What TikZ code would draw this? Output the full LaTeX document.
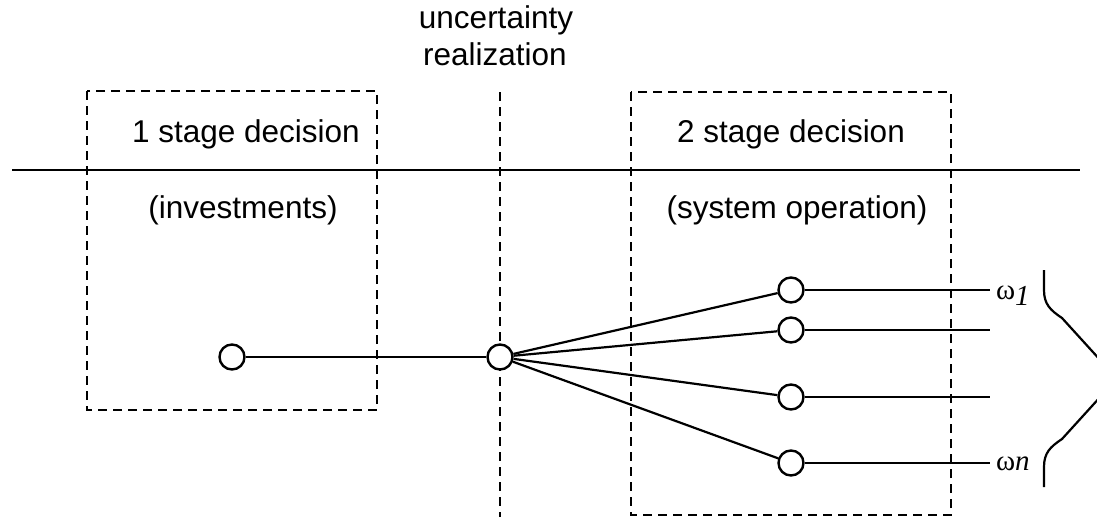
\documentclass[tikz,border=0pt]{standalone}
\usepackage{fontspec}
\setmainfont{Liberation Sans}
\newfontfamily\omegafont{Liberation Serif}
\begin{document}
\begin{tikzpicture}[x=1pt, y=-1pt, line width=2.2pt,
   dashbox/.style={dash pattern=on 9pt off 6pt, line width=2.2pt},
   vertex/.style={circle, draw, fill=white, minimum size=25pt, inner sep=0pt, line width=2.4pt},
   lbl/.style={anchor=base, inner sep=0pt, font=\fontsize{31.5}{37}\selectfont},
   omega/.style={anchor=base west, inner sep=0pt, font=\omegafont\fontsize{29}{32}\selectfont}]
   \useasboundingbox (0,0) rectangle (1097,517);
   % stage line and boxes
   \draw (12,170)--(1080,170);
   \draw[dashbox] (87,91) rectangle (377,410);
   \draw[dashbox] (631,92) rectangle (951,515);
   \draw[dashbox] (500,92)--(500,517);
   % texts
   \node[lbl] (unc) at (496,28) {uncertainty};
   \node[lbl] (real) at (495,65) {realization};
   \node[lbl] (st1) at (246,142) {1 stage decision};
   \node[lbl] (inv) at (243,218) {(investments)};
   \node[lbl] (st2) at (791,142) {2 stage decision};
   \node[lbl] (ops) at (797,218) {(system operation)};
   % tree
   \node[vertex] (inv0) at (232,357) {};
   \node[vertex] (unc0) at (500,357) {};
   \node[vertex] (op1) at (791,290) {};
   \node[vertex] (op2) at (791,330) {};
   \node[vertex] (op3) at (791,397) {};
   \node[vertex] (op4) at (791,463) {};
   \coordinate (end1) at (990,290);
   \coordinate (end2) at (990,330);
   \coordinate (end3) at (990,397);
   \coordinate (end4) at (990,463);
   \draw (inv0)--(unc0);
   \foreach \i in {1,...,4} {
      \draw (unc0)--(op\i);
      \draw (op\i)--(end\i);
   }
   \node[omega] (w1) at (995,299) {ω\raisebox{-6pt}{\textit{1}}};
   \node[omega] (wn) at (995,470) {ω\textit{n}};
   % brace
   \draw (1044,270)--(1044,290) .. controls (1044,304) and (1050,310) .. (1062,318)
      --(1117,378.5)--(1062,439) .. controls (1050,447) and (1044,453) .. (1044,467)
      --(1044,487);
  \end{tikzpicture}
\end{document}
